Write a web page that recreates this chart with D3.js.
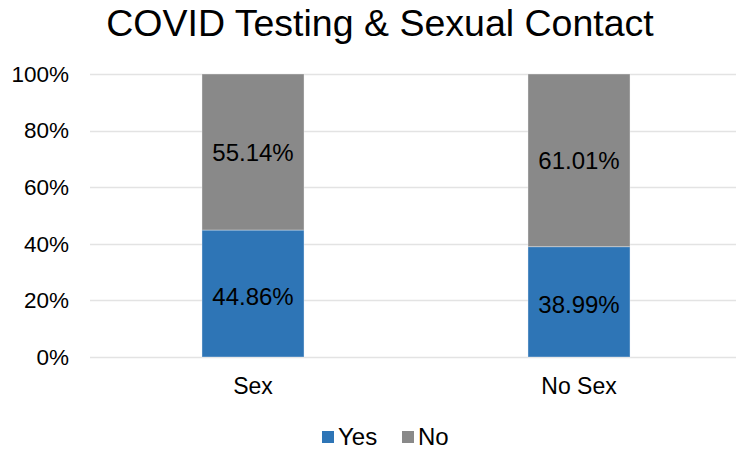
<!DOCTYPE html>
<html><head><meta charset="utf-8">
<script src="https://cdn.jsdelivr.net/npm/d3@7"></script>
<style>html,body{margin:0;padding:0;background:#fff;}svg{display:block;font-family:"Liberation Sans",Arial,sans-serif;}</style>
</head><body>
<svg id="chart" width="736" height="449"></svg>
<script>
const categories = ["Sex", "No Sex"];
const seriesNames = ["Yes", "No"];
const yesValues = [44.86, 38.99];
const noValues = [55.14, 61.01];
const yTicks = [0, 20, 40, 60, 80, 100];
const colors = ["#2E75B6", "#898989"];

(function () {
const svg = d3.select("#chart");
const W = 736, H = 449;
const pLeft = 90, pRight = 742, pTop = 74, pBottom = 357;

const x = d3.scaleBand().domain(categories).range([pLeft, pRight]).paddingInner(0.687).paddingOuter(0.3435);
const y = d3.scaleLinear().domain([0, 100]).range([pBottom, pTop]);

svg.append("text").attr("x", 380).attr("y", 36).attr("text-anchor", "middle")
  .attr("font-size", 37.5).attr("fill", "#000").text("COVID Testing & Sexual Contact");

// gridlines
svg.append("g").selectAll("line").data(yTicks).join("line")
  .attr("x1", pLeft).attr("x2", W).attr("y1", d => Math.round(y(d)) + 0.5).attr("y2", d => Math.round(y(d)) + 0.5)
  .attr("stroke", "#e3e3e3").attr("stroke-width", 1.3);

// y axis labels
const yAxis = d3.axisLeft(y).tickValues(yTicks).tickFormat(d => d + "%").tickSize(0).tickPadding(0);
const ya = svg.append("g").attr("transform", "translate(69,0)").call(yAxis);
ya.select(".domain").remove();
ya.selectAll("text").attr("font-size", 22.5).attr("font-family", "Liberation Sans, Arial, sans-serif").attr("fill", "#000");

// stack
const rows = categories.map((c, i) => ({cat: c, Yes: yesValues[i], No: noValues[i]}));
const stack = d3.stack().keys(seriesNames)(rows);

const g = svg.append("g");
stack.forEach((s, si) => {
  g.selectAll(null).data(s).join("rect")
    .attr("x", d => x(d.data.cat))
    .attr("width", x.bandwidth())
    .attr("y", d => y(d[1]))
    .attr("height", d => y(d[0]) - y(d[1]))
    .attr("fill", colors[si])
    .attr("stroke", "rgba(255,255,255,0.35)").attr("stroke-width", 1);
  g.selectAll(null).data(s).join("text")
    .attr("x", d => x(d.data.cat) + x.bandwidth() / 2)
    .attr("y", d => (y(d[0]) + y(d[1])) / 2 + (si === 0 ? 11 : 9))
    .attr("text-anchor", "middle").attr("font-size", 24).attr("fill", "#000")
    .text(d => (d[1] - d[0]).toFixed(2) + "%");
});

// x axis labels
const xAxis = d3.axisBottom(x).tickSize(0).tickPadding(0);
const xa = svg.append("g").attr("transform", "translate(0," + (pBottom + 21) + ")").call(xAxis);
xa.select(".domain").remove();
xa.selectAll("text").attr("font-size", 23).attr("font-family", "Liberation Sans, Arial, sans-serif").attr("fill", "#000");

// legend
const legendX = [322, 402];
const lg = svg.append("g");
seriesNames.forEach((name, i) => {
  lg.append("rect").attr("x", legendX[i]).attr("y", 431).attr("width", 12).attr("height", 12).attr("fill", colors[i]);
  lg.append("text").attr("x", legendX[i] + 16).attr("y", 445).attr("font-size", 24).attr("fill", "#000").text(name);
});
})();
</script>
</body></html>
